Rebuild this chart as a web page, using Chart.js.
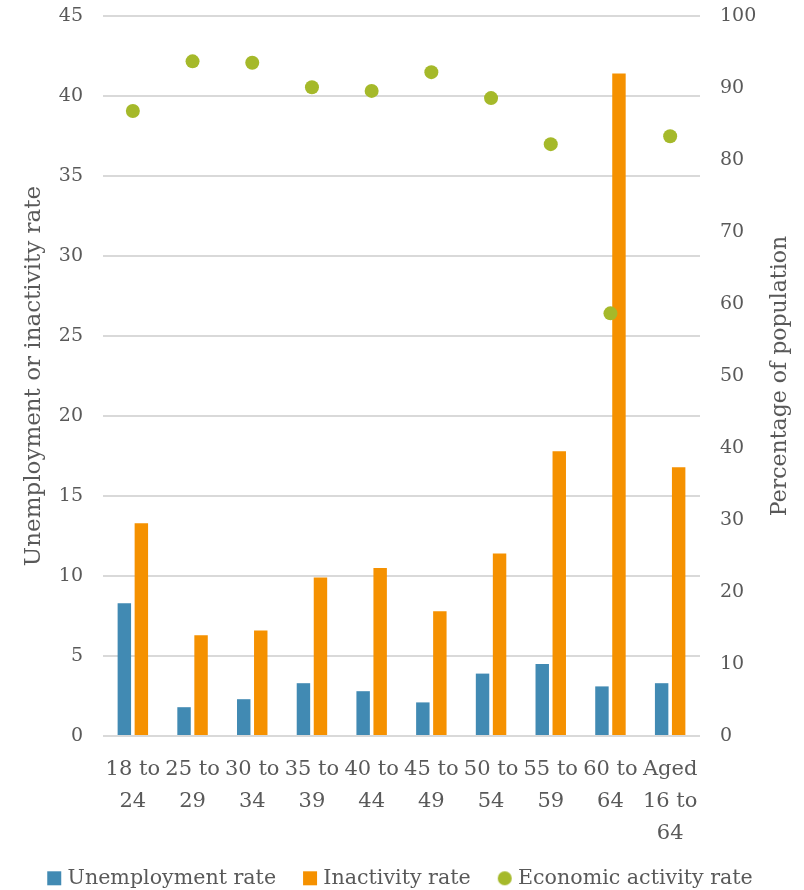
<!DOCTYPE html>
<html>
<head>
<meta charset="utf-8">
<script src="https://cdn.jsdelivr.net/npm/chart.js@4/dist/chart.umd.min.js"></script>
<style>
    html, body { margin: 0; padding: 0; background: #fff; }
    #wrap { width: 804px; height: 890px; }
</style>
</head>
<body>
<div id="wrap"><canvas id="chart"></canvas></div>
<script>
const AGE_GROUPS = [
    ['18 to', '24'],
    ['25 to', '29'],
    ['30 to', '34'],
    ['35 to', '39'],
    ['40 to', '44'],
    ['45 to', '49'],
    ['50 to', '54'],
    ['55 to', '59'],
    ['60 to', '64'],
    ['Aged', '16 to', '64'],
]

// left axis
const UNEMPLOYMENT = [8.3, 1.8, 2.3, 3.3, 2.8, 2.1, 3.9, 4.5, 3.1, 3.3]
const INACTIVITY = [13.3, 6.3, 6.6, 9.9, 10.5, 7.8, 11.4, 17.8, 41.4, 16.8]

// right axis
const ACTIVITY = [86.8, 93.7, 93.5, 90.1, 89.6, 92.2, 88.6, 82.2, 58.7, 83.3]

const FONT = 'DejaVu Serif'
const GREY = '#595959'
const GREEN = '#a5b92a'

Chart.defaults.font.family = FONT
Chart.defaults.color = GREY

// small dot for the legend, same size as the points on the chart
const legendDot = document.createElement('canvas')
legendDot.width = 16
legendDot.height = 16
const dctx = legendDot.getContext('2d')
dctx.fillStyle = GREEN
dctx.beginPath()
dctx.arc(8, 8, 7, 0, Math.PI * 2)
dctx.fill()

// right axis title, reading bottom to top like the left one
const rightTitle = {
    id: 'rightTitle',
    afterDraw (chart) {
        const { ctx, chartArea, scales } = chart
        ctx.save()
        ctx.translate(scales.y1.right - 24, (chartArea.top + chartArea.bottom) / 2)
        ctx.rotate(-Math.PI / 2)
        ctx.font = `22px "${FONT}"`
        ctx.fillStyle = GREY
        ctx.textAlign = 'center'
        ctx.textBaseline = 'middle'
        ctx.fillText('Percentage of population', 0, 0)
        ctx.restore()
    },
}

// legend padding is used for the gaps between items, so keep its box short
// and pull it up over the bottom of the x axis
const LEGEND_HEIGHT = 43
const LEGEND_LIFT = 10
const legendFit = {
    id: 'legendFit',
    beforeLayout (chart) {
        const legend = chart.legend
        if (!legend || legend._fitWrapped) return
        const fit = legend.fit
        legend.fit = function () {
            fit.call(this)
            this.height = LEGEND_HEIGHT
        }
        legend._fitWrapped = true
    },
    afterLayout (chart) {
        const legend = chart.legend
        if (!legend) return
        legend.top -= LEGEND_LIFT
        legend.bottom = legend.top + LEGEND_HEIGHT + LEGEND_LIFT
        legend.height = LEGEND_HEIGHT + LEGEND_LIFT
    },
}

// no extra room above/below the value axes, the layout padding handles it
function fitValueAxis (width) {
    return (scale) => {
        scale.width = width
        scale.paddingTop = 0
        scale.paddingBottom = 0
    }
}

const ctx = document.getElementById('chart').getContext('2d')
const chart = new Chart(ctx, {
    type: 'bar',
    data: {
        labels: AGE_GROUPS,
        datasets: [
            {
                label: 'Unemployment rate',
                data: UNEMPLOYMENT,
                backgroundColor: '#418ab3',
                yAxisID: 'y',
                order: 1,
                pointStyle: 'rect',
                barPercentage: 0.79,
                categoryPercentage: 0.57,
            },
            {
                label: 'Inactivity rate',
                data: INACTIVITY,
                backgroundColor: '#f59100',
                yAxisID: 'y',
                order: 1,
                pointStyle: 'rect',
                barPercentage: 0.79,
                categoryPercentage: 0.57,
            },
            {
                type: 'line',
                label: 'Economic activity rate',
                data: ACTIVITY,
                yAxisID: 'y1',
                showLine: false,
                order: 0,
                pointStyle: 'circle',
                pointRadius: 7,
                pointHoverRadius: 7,
                pointBackgroundColor: GREEN,
                pointBorderWidth: 0,
                backgroundColor: GREEN,
                borderColor: GREEN,
            },
        ],
    },
    options: {
        responsive: true,
        maintainAspectRatio: false,
        animation: false,
        layout: { padding: { top: 16, left: 0, right: 0, bottom: 0 } },
        plugins: {
            tooltip: { enabled: false },
            legend: {
                position: 'bottom',
                labels: {
                    usePointStyle: true,
                    boxWidth: 6,
                    boxHeight: 14,
                    padding: 31,
                    font: { size: 20.6 },
                    color: GREY,
                    sort: (a, b) => a.datasetIndex - b.datasetIndex,
                    generateLabels (chart) {
                        const items = Chart.defaults.plugins.legend.labels.generateLabels(chart)
                        for (const item of items) {
                            if (item.pointStyle === 'circle') item.pointStyle = legendDot
                        }
                        return items
                    },
                },
            },
        },
        scales: {
            x: {
                grid: { display: false },
                border: { display: false },
                ticks: {
                    autoSkip: false,
                    maxRotation: 0,
                    minRotation: 0,
                    font: { size: 21, lineHeight: 1.52 },
                    color: GREY,
                    padding: 10,
                },
                afterFit: (scale) => { scale.height = 111 },
            },
            y: {
                position: 'left',
                min: 0,
                max: 45,
                ticks: { stepSize: 5, font: { size: 19 }, color: GREY, padding: 20 },
                grid: { color: '#d9d9d9', lineWidth: 2, drawTicks: false },
                border: { display: false },
                title: {
                    display: true,
                    text: 'Unemployment or inactivity rate',
                    font: { size: 23 },
                    color: GREY,
                    padding: { top: 20, bottom: 0 },
                },
                afterFit: fitValueAxis(103),
            },
            y1: {
                position: 'right',
                min: 0,
                max: 100,
                ticks: { stepSize: 10, font: { size: 19 }, color: GREY, padding: 20 },
                grid: { drawOnChartArea: false, drawTicks: false },
                border: { display: false },
                afterFit: fitValueAxis(104),
            },
        },
    },
    plugins: [ rightTitle, legendFit ],
})
</script>
</body>
</html>
